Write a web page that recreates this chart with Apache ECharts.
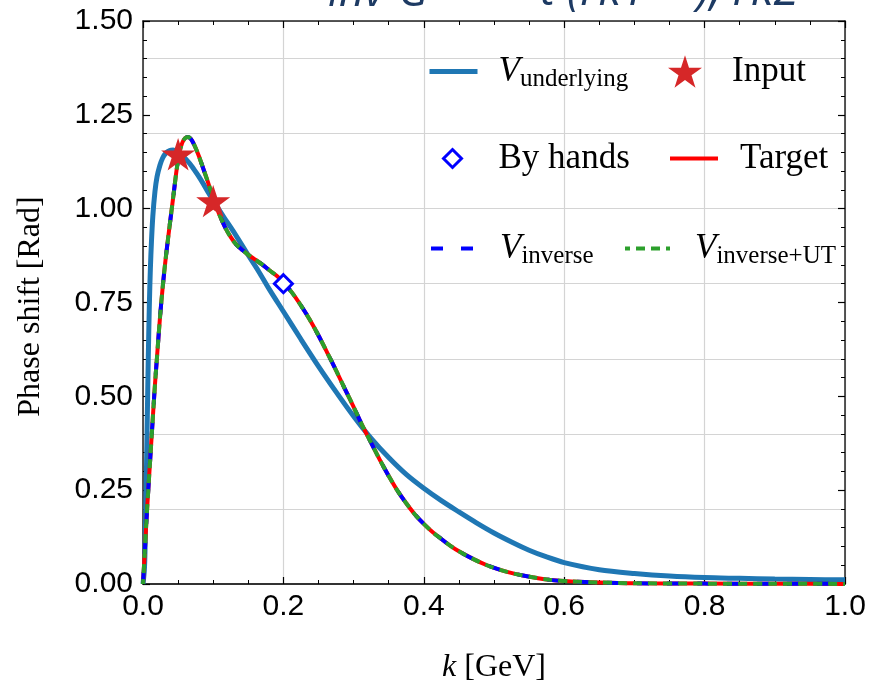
<!DOCTYPE html>
<html>
<head>
<meta charset="utf-8">
<script src="https://cdn.jsdelivr.net/npm/echarts@6/dist/echarts.min.js"></script>
<style>
  html, body { margin: 0; padding: 0; background: #ffffff; }
  #chart { width: 872px; height: 689px; }
</style>
</head>
<body>
<div id="chart"></div>
<script>
// Momentum grid and phase shift of the underlying potential
const kUnderlying = [0, 0.002, 0.003, 0.004, 0.005, 0.006, 0.0075, 0.009, 0.0105, 0.012, 0.014, 0.017, 0.020,
  0.024, 0.028, 0.033, 0.038, 0.043, 0.048, 0.055, 0.062, 0.070, 0.078, 0.086, 0.093, 0.100, 0.108, 0.116,
  0.125, 0.135, 0.150, 0.165, 0.180, 0.200, 0.225, 0.250, 0.275, 0.300, 0.325, 0.350, 0.375, 0.400, 0.425,
  0.450, 0.475, 0.500, 0.525, 0.550, 0.575, 0.600, 0.650, 0.700, 0.750, 0.800, 0.850, 0.900, 0.950, 1.000];
const phaseUnderlying = [0, 0.04, 0.10, 0.20, 0.31, 0.43, 0.60, 0.74, 0.84, 0.91, 0.98, 1.045, 1.085,
  1.115, 1.135, 1.149, 1.155, 1.156, 1.152, 1.143, 1.130, 1.112, 1.090, 1.066, 1.043, 1.022, 0.998, 0.975,
  0.950, 0.921, 0.876, 0.832, 0.785, 0.726, 0.652, 0.580, 0.512, 0.447, 0.388, 0.337, 0.292, 0.255, 0.222,
  0.192, 0.163, 0.136, 0.112, 0.090, 0.072, 0.057, 0.038, 0.028, 0.021, 0.017, 0.015, 0.013, 0.012, 0.011];

// Target phase shift; the inverse and inverse+UT reconstructions lie on top of it
const kTarget = [0, 0.0025, 0.005, 0.008, 0.011, 0.014, 0.017, 0.020, 0.024, 0.028, 0.032, 0.036, 0.040,
  0.044, 0.048, 0.052, 0.056, 0.060, 0.064, 0.068, 0.073, 0.079, 0.086, 0.093, 0.100, 0.108, 0.117, 0.125,
  0.133, 0.142, 0.150, 0.160, 0.170, 0.180, 0.190, 0.200, 0.212, 0.225, 0.237, 0.250, 0.262, 0.275, 0.287,
  0.300, 0.312, 0.325, 0.337, 0.350, 0.362, 0.375, 0.387, 0.400, 0.412, 0.425, 0.437, 0.450, 0.470, 0.490,
  0.510, 0.530, 0.555, 0.580, 0.610, 0.650, 0.700, 0.800, 0.900, 1.000];
const phaseTarget = [0, 0.085, 0.172, 0.265, 0.354, 0.443, 0.530, 0.606, 0.705, 0.790, 0.862, 0.925, 0.985,
  1.045, 1.105, 1.150, 1.176, 1.188, 1.191, 1.186, 1.170, 1.143, 1.106, 1.068, 1.028, 0.988, 0.950, 0.924,
  0.904, 0.889, 0.877, 0.864, 0.851, 0.836, 0.822, 0.804, 0.777, 0.742, 0.706, 0.662, 0.618, 0.569, 0.522,
  0.472, 0.424, 0.376, 0.332, 0.288, 0.250, 0.215, 0.186, 0.160, 0.139, 0.120, 0.103, 0.087, 0.067, 0.050,
  0.037, 0.027, 0.018, 0.011, 0.007, 0.004, 0.002, 0.001, 0.0005, 0.0003];
const phaseInverse = phaseTarget;
const phaseInverseUT = phaseTarget;

// Input points and the hand-picked point
const inputK = [0.05, 0.10];
const inputPhase = [1.145, 1.02];
const handK = [0.20];
const handPhase = [0.80];

// Axis ticks
const xTicks = [0.0, 0.2, 0.4, 0.6, 0.8, 1.0];
const yTicks = [0.00, 0.25, 0.50, 0.75, 1.00, 1.25, 1.50];

const pairs = (xs, ys) => xs.map((x, i) => [x, ys[i]]);

const STAR = 'path://M50 0 L61.23 34.55 L97.55 34.55 L68.16 55.9 L79.39 90.45 L50 69.1 L20.61 90.45 L31.84 55.9 L2.45 34.55 L38.77 34.55 Z';

const SERIF = '"Liberation Serif", "DejaVu Serif", serif';
const SANS = '"Liberation Sans", Arial, sans-serif';

const WIDTH_UNDERLYING = 5;
const WIDTH_FIT = 4;
const DASH_INVERSE = [12, 18];
const DASH_UT = [9, 6];

const legendRich = {
  v: { fontFamily: SERIF, fontStyle: 'italic', fontSize: 35, lineHeight: 40, color: '#000' },
  s: { fontFamily: SERIF, fontSize: 25, lineHeight: 24, verticalAlign: 'bottom', color: '#000' },
  t: { fontFamily: SERIF, fontSize: 35, lineHeight: 40, color: '#000' }
};
const legendLabels = {
  'V_underlying': '{v|V}{s|underlying}',
  'Input': '{t|Input}',
  'By hands': '{t|By hands}',
  'Target': '{t|Target}',
  'V_inverse': '{v|V}{s|inverse}',
  'V_inverse+UT': '{v|V}{s|inverse+UT}'
};

// one legend entry per component, placed on its own spot
function legendItem(name, left, cy, w, h, gap, extra) {
  return Object.assign({
    data: [name],
    left: left,
    top: cy - 17,
    orient: 'horizontal',
    padding: 0,
    itemWidth: w,
    itemHeight: h,
    selectedMode: false,
    formatter: n => legendLabels[n],
    textStyle: { padding: [0, 0, 0, gap], rich: legendRich }
  }, extra || {});
}
// line entries: keep the stroke, hide the marker dot
const lineOnly = (width, dash) => ({
  itemStyle: { opacity: 0 },
  lineStyle: dash ? { width: width, type: dash } : { width: width }
});

const tickFont = { fontSize: 30, fontFamily: SANS, color: '#000' };
const curveSmooth = 0.3;

const chart = echarts.init(document.getElementById('chart'), null, { renderer: 'canvas' });
chart.setOption({
  animation: false,
  backgroundColor: '#ffffff',
  grid: { left: 143, right: 27, top: 21, bottom: 102 },
  graphic: [
    { type: 'text', x: 328, y: 15, style: { text: 'inv-G', font: 'italic 44px "Open Sans", sans-serif', fill: '#1d3a63', verticalAlign: 'bottom' } },
    { type: 'text', x: 540, y: 15, style: { text: 't (rk1 < ), rk2', font: 'italic 46px "Open Sans", sans-serif', fill: '#1d3a63', verticalAlign: 'bottom' } }
  ],
  legend: [
    legendItem('V_underlying', 427, 71, 48, 14, 16, lineOnly(WIDTH_UNDERLYING)),
    legendItem('Input', 668, 71, 34, 34, 25),
    legendItem('By hands', 442, 158, 18, 18, 32, { itemStyle: { borderWidth: 3 } }),
    legendItem('Target', 668, 158, 48, 14, 17, lineOnly(WIDTH_FIT)),
    legendItem('V_inverse', 429, 248, 45, 14, 19, lineOnly(WIDTH_FIT, DASH_INVERSE)),
    legendItem('V_inverse+UT', 623, 248, 45, 14, 20, lineOnly(WIDTH_FIT, DASH_UT))
  ],
  xAxis: [
    {
      type: 'value', position: 'bottom', min: 0, max: 1, interval: 0.2,
      name: '{i|k} [GeV]', nameLocation: 'middle', nameGap: 68,
      nameTextStyle: { fontFamily: SERIF, fontSize: 32, color: '#000',
        rich: { i: { fontFamily: SERIF, fontStyle: 'italic', fontSize: 32, color: '#000' } } },
      axisLine: { show: true, onZero: false, lineStyle: { color: '#333', width: 2 } },
      axisTick: { show: true, inside: true, length: 7, lineStyle: { color: '#000', width: 1.2 } },
      minorTick: { show: true, splitNumber: 4, length: 4, lineStyle: { color: '#000', width: 1 } },
      splitLine: { show: true, lineStyle: { color: '#d4d4d4', width: 1.2 } },
      axisLabel: Object.assign({ margin: 8, formatter: v => xTicks.find(t => Math.abs(t - v) < 1e-9).toFixed(1) }, tickFont)
    },
    {
      type: 'value', position: 'top', min: 0, max: 1, interval: 0.2,
      axisLine: { show: true, onZero: false, lineStyle: { color: '#222', width: 1.5 } },
      axisTick: { show: true, inside: true, length: 7, lineStyle: { color: '#000', width: 1.2 } },
      minorTick: { show: true, splitNumber: 4, length: 4, lineStyle: { color: '#000', width: 1 } },
      splitLine: { show: false },
      axisLabel: { show: false }
    }
  ],
  yAxis: [
    {
      type: 'value', position: 'left', min: 0, max: 1.5, interval: 0.25,
      name: 'Phase shift [Rad]', nameLocation: 'middle', nameGap: 96,
      nameTextStyle: { fontFamily: SERIF, fontSize: 32, color: '#000', padding: [0, 8, 0, 0] },
      axisLine: { show: true, onZero: false, lineStyle: { color: '#222', width: 1.5 } },
      axisTick: { show: true, inside: true, length: 7, lineStyle: { color: '#000', width: 1.2 } },
      minorTick: { show: true, splitNumber: 5, length: 4, lineStyle: { color: '#000', width: 1 } },
      splitLine: { show: false },
      axisLabel: Object.assign({ margin: 10, formatter: v => yTicks.find(t => Math.abs(t - v) < 1e-9).toFixed(2) }, tickFont)
    },
    {
      type: 'value', position: 'right', min: 0, max: 1.5, interval: 0.25,
      axisLine: { show: true, onZero: false, lineStyle: { color: '#222', width: 1.5 } },
      axisTick: { show: true, inside: true, length: 7, lineStyle: { color: '#000', width: 1.2 } },
      minorTick: { show: true, splitNumber: 5, length: 4, lineStyle: { color: '#000', width: 1 } },
      splitLine: { show: false },
      axisLabel: { show: false }
    },
    {
      // horizontal grid lines every 0.2
      type: 'value', position: 'left', min: 0, max: 1.5, interval: 0.2,
      axisLine: { show: false }, axisTick: { show: false }, axisLabel: { show: false },
      splitLine: { show: true, lineStyle: { color: '#d4d4d4', width: 1.2 } }
    }
  ],
  series: [
    {
      name: 'V_underlying', type: 'line', xAxisIndex: 0, yAxisIndex: 0, z: 2,
      data: pairs(kUnderlying, phaseUnderlying), symbol: 'none', showSymbol: false,
      smooth: curveSmooth,
      lineStyle: { color: '#1f77b4', width: WIDTH_UNDERLYING }, itemStyle: { color: '#1f77b4' }
    },
    {
      name: 'Input', type: 'scatter', xAxisIndex: 0, yAxisIndex: 0, z: 10,
      data: pairs(inputK, inputPhase), symbol: STAR, symbolSize: 34, symbolKeepAspect: true,
      itemStyle: { color: '#d62728', opacity: 1 }
    },
    {
      name: 'By hands', type: 'scatter', xAxisIndex: 0, yAxisIndex: 0, z: 11,
      data: pairs(handK, handPhase), symbol: 'diamond', symbolSize: 18,
      itemStyle: { color: '#ffffff', borderColor: '#0000ff', borderWidth: 3, opacity: 1 }
    },
    {
      name: 'Target', type: 'line', xAxisIndex: 0, yAxisIndex: 0, z: 3,
      data: pairs(kTarget, phaseTarget), symbol: 'none', showSymbol: false,
      smooth: curveSmooth,
      lineStyle: { color: '#ff0000', width: WIDTH_FIT }, itemStyle: { color: '#ff0000' }
    },
    {
      name: 'V_inverse', type: 'line', xAxisIndex: 0, yAxisIndex: 0, z: 4,
      data: pairs(kTarget, phaseInverse), symbol: 'none', showSymbol: false,
      smooth: curveSmooth,
      lineStyle: { color: '#0000ff', width: WIDTH_FIT, type: DASH_INVERSE }, itemStyle: { color: '#0000ff' }
    },
    {
      name: 'V_inverse+UT', type: 'line', xAxisIndex: 0, yAxisIndex: 0, z: 5,
      data: pairs(kTarget, phaseInverseUT), symbol: 'none', showSymbol: false,
      smooth: curveSmooth,
      lineStyle: { color: '#2ca02c', width: WIDTH_FIT, type: DASH_UT, dashOffset: 4 }, itemStyle: { color: '#2ca02c' }
    }
  ]
});
</script>
</body>
</html>
